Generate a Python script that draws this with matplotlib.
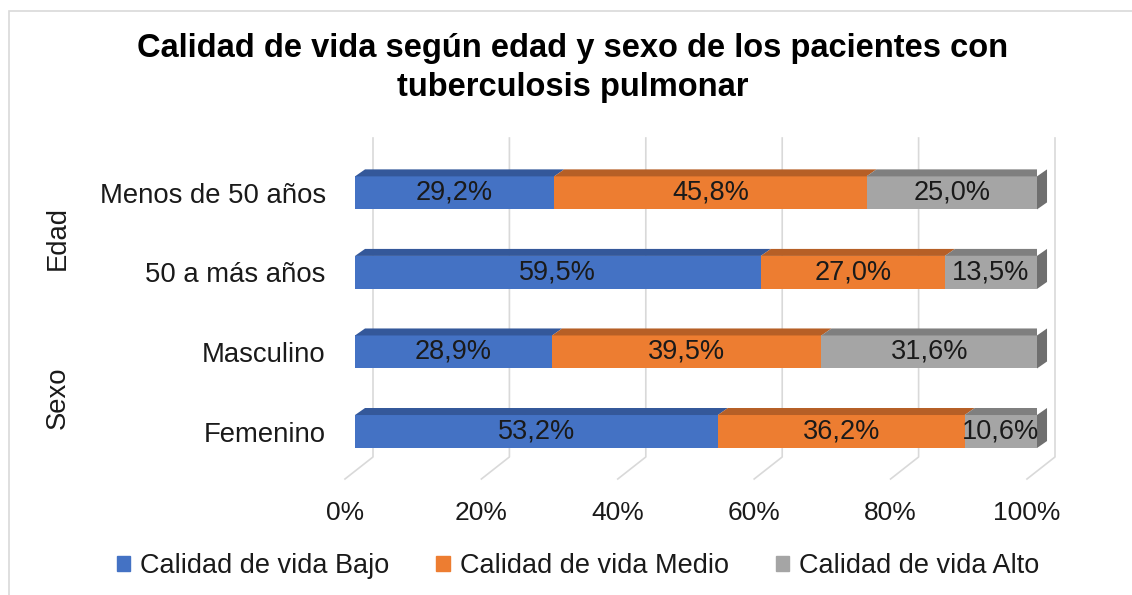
import matplotlib.pyplot as plt
from matplotlib.patches import Polygon, Rectangle
from matplotlib.transforms import blended_transform_factory

plt.rcParams['font.family'] = ['Liberation Sans', 'DejaVu Sans']

categorias = ["Menos de 50 años", "50 a más años", "Masculino", "Femenino"]
grupos = ["Edad", "Sexo"]
series = ["Calidad de vida Bajo", "Calidad de vida Medio", "Calidad de vida Alto"]
bajo = [29.2, 59.5, 28.9, 53.2]
medio = [45.8, 27.0, 39.5, 36.2]
alto = [25.0, 13.5, 31.6, 10.6]
ticks = [0, 20, 40, 60, 80, 100]

colores = ["#4472C4", "#ED7D31", "#A5A5A5"]
colores_top = ["#34589A", "#B65F26", "#7F7F7F"]
color_lado = "#6F6F6F"
texto = "#1A1A1A"

W, H = 1132, 595
fig = plt.figure(figsize=(W / 100, H / 100), dpi=100)

# marco del grafico
fig.patches.append(Rectangle((9 / W, -0.1), 1.2, 1 - 11 / H + 0.1, transform=fig.transFigure,
                             fill=False, edgecolor="#D9D9D9", linewidth=1.2))

ax = fig.add_axes([355 / W, 1 - 479 / H, 682 / W, (479 - 138) / H])
y_bot, y_top = -0.597, 3.69
ax.set_xlim(0, 100)
ax.set_ylim(y_bot, y_top)
for s in ax.spines.values():
    s.set_visible(False)
ax.set_xticks([])

ypos = [3, 2, 1, 0]
alto_barra = 0.415
dx = 1.47          # profundidad de las barras (unidades de x)
dy = 0.088         # profundidad de las barras (unidades de y)
back_dx = 2.64     # pared del fondo
front_dx = -1.47   # borde frontal del piso
y_piso_fondo = -0.32

# rejilla 3D (pared + piso)
for v in ticks:
    ax.plot([v + back_dx, v + back_dx, v + front_dx], [y_top, y_piso_fondo, y_bot],
            color="#D9D9D9", linewidth=1.2, zorder=0, clip_on=False)
    ax.text(v + front_dx, -1.03, f"{v}%", ha="center", va="center", fontsize=19,
            color=texto, clip_on=False)

datos = [bajo, medio, alto]
izquierda = [0.0] * len(categorias)
for k, vals in enumerate(datos):
    ax.barh(ypos, vals, left=izquierda, height=alto_barra, color=colores[k], zorder=2)
    for i, (y, v) in enumerate(zip(ypos, vals)):
        x0 = izquierda[i]
        yt = y + alto_barra / 2
        ax.add_patch(Polygon([(x0, yt), (x0 + v, yt), (x0 + v + dx, yt + dy), (x0 + dx, yt + dy)],
                             closed=True, facecolor=colores_top[k], edgecolor="none", zorder=2))
        ax.text(x0 + v / 2, y, f"{v:.1f}%".replace(".", ","), ha="center", va="center",
                fontsize=19.5, color=texto, zorder=4)
    izquierda = [a + b for a, b in zip(izquierda, vals)]

# cara lateral derecha
for y, x1 in zip(ypos, izquierda):
    yb, yt = y - alto_barra / 2, y + alto_barra / 2
    ax.add_patch(Polygon([(x1, yb), (x1, yt), (x1 + dx, yt + dy), (x1 + dx, yb + dy)],
                         closed=True, facecolor=color_lado, edgecolor="none", zorder=2, clip_on=False))

ax.set_yticks(ypos)
ax.set_yticklabels(categorias, fontsize=19.8, color=texto)
ax.tick_params(axis="y", length=0, pad=21)

# etiquetas de grupo
trans = blended_transform_factory(fig.transFigure, ax.transData)
ax.text(58 / W, 2.43, grupos[0], rotation=90, ha="center", va="center", fontsize=19.8,
        color=texto, transform=trans)
ax.text(58 / W, 0.43, grupos[1], rotation=90, ha="center", va="center", fontsize=19.8,
        color=texto, transform=trans)

fig.text(573 / W, 1 - 68 / H, "Calidad de vida según edad y sexo de los pacientes con\ntuberculosis pulmonar",
         ha="center", va="center", fontsize=23.5, fontweight="bold", linespacing=1.3, color="black")

handles = [Rectangle((0, 0), 1, 1, color=c) for c in colores]
leg = fig.legend(handles, series, loc="center", bbox_to_anchor=(578 / W, 1 - 566 / H), ncol=3,
                 frameon=False, fontsize=19.5, handlelength=0.5, handleheight=0.5,
                 handletextpad=0.35, columnspacing=1.75, labelcolor=texto)

fig.savefig("out.png", dpi=100)
